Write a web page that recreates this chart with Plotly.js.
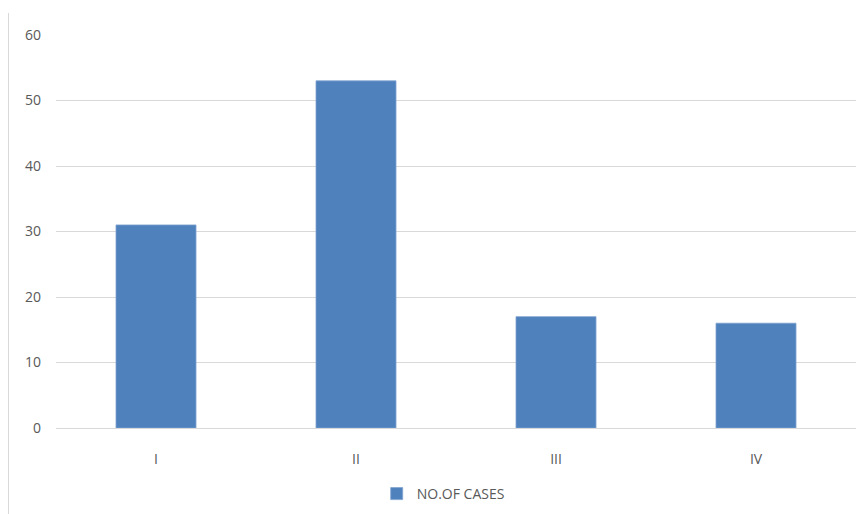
<!DOCTYPE html>
<html>
<head>
<meta charset="utf-8">
<script src="https://cdn.plot.ly/plotly-3.0.1.min.js"></script>
<style>
  html, body { margin: 0; padding: 0; background: #fff; }
  #wrap { position: relative; width: 866px; height: 514px; }
  #chart { position: absolute; left: 0; top: 0; width: 866px; height: 514px; }
  #edge { position: absolute; left: 8px; top: 13px; width: 0; height: 501px; border-left: 1px solid #d9d9d9; }
</style>
</head>
<body>
<div id="wrap">
  <div id="chart"></div>
  <div id="edge"></div>
</div>
<script>
// Cases per stage
const stages = ['I', 'II', 'III', 'IV'];
const cases = [31, 53, 17, 16];
const seriesName = 'NO.OF CASES';
const yTicks = [0, 10, 20, 30, 40, 50, 60];

const trace = {
  type: 'bar',
  x: stages,
  y: cases,
  name: seriesName,
  marker: { color: '#4f81bd', line: { color: '#7fa1cf', width: 0.8 } },
  hoverinfo: 'x+y'
};

const layout = {
  width: 866,
  height: 514,
  margin: { l: 56, r: 10, t: 35, b: 86, autoexpand: false },
  paper_bgcolor: '#ffffff',
  plot_bgcolor: '#ffffff',
  font: { family: 'Open Sans, Liberation Sans, sans-serif', size: 14, color: '#595959' },
  bargap: 0.6,
  showlegend: true,
  legend: {
    orientation: 'h',
    x: 0.484, xanchor: 'center',
    y: -0.168, yanchor: 'middle',
    font: { size: 14, color: '#595959' },
    itemwidth: 30
  },
  xaxis: {
    type: 'category',
    showgrid: false,
    showline: false,
    zeroline: false,
    ticks: '',
    ticklabelstandoff: 21,
    tickfont: { size: 14, color: '#595959' }
  },
  yaxis: {
    range: [0, 60],
    tickvals: yTicks,
    ticktext: yTicks.map(String),
    showgrid: true,
    gridcolor: '#d9d9d9',
    gridwidth: 1,
    zeroline: true,
    zerolinecolor: '#d9d9d9',
    zerolinewidth: 1,
    showline: false,
    ticks: '',
    ticklabelstandoff: 14,
    tickfont: { size: 14, color: '#595959' }
  }
};

Plotly.newPlot('chart', [trace], layout, { displayModeBar: false, staticPlot: true });
</script>
</body>
</html>
